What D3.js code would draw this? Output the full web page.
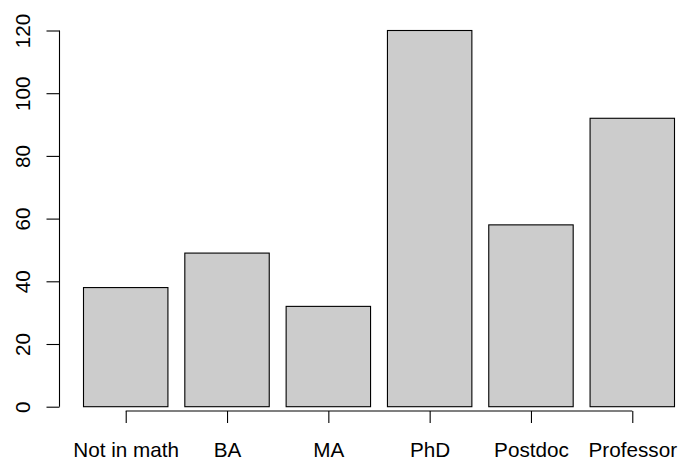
<!DOCTYPE html>
<html><head><meta charset="utf-8">
<script src="https://cdn.jsdelivr.net/npm/d3@7"></script>
<style>
html,body{margin:0;padding:0;background:#fff;}
text{font-family:"Liberation Sans",Arial,Helvetica,sans-serif;}
</style></head>
<body><svg id="c" width="680" height="460"></svg>
<script>
const categories = ["Not in math","BA","MA","PhD","Postdoc","Professor"];
const counts = [38,49,32,120,58,92];
const yTicks = [0,20,40,60,80,100,120];

const svg = d3.select("#c");
const x = d3.scaleBand().domain(categories).range([83,674]).paddingInner(0.2/1.2).paddingOuter(0);
const y = d3.scaleLinear().domain([0,120]).range([406.7,30.5]);
const FS = 20.7;

svg.append("g").selectAll("rect").data(categories).join("rect")
  .attr("x", d=>x(d)+0.5)
  .attr("y", (d,i)=>y(counts[i]))
  .attr("width", x.bandwidth())
  .attr("height", (d,i)=>y(0)-y(counts[i]))
  .attr("fill","#cccccc").attr("stroke","#000").attr("stroke-width",1.1);

// Y axis
const yAxis = d3.axisLeft(y).tickValues(yTicks).tickSize(13).tickPadding(17);
const gy = svg.append("g").attr("transform","translate(59.5,0)").call(yAxis);
gy.select(".domain").attr("d",`M0,${y(0)}V${y(120)}`).attr("stroke","#000").attr("stroke-width",1.1);
gy.selectAll(".tick line").attr("stroke","#000").attr("stroke-width",1.1);
gy.selectAll(".tick text").attr("font-size",FS).attr("fill","#000")
  .attr("font-family","Liberation Sans, Arial, sans-serif")
  .attr("text-anchor","middle").attr("dy",0).attr("x",0)
  .attr("transform","translate(-30,0) rotate(-90)");

// X axis
const xAxis = d3.axisBottom(d3.scalePoint().domain(categories).range([x(categories[0])+x.bandwidth()/2, x(categories[5])+x.bandwidth()/2]))
  .tickSize(12).tickPadding(20);
const gx = svg.append("g").attr("transform","translate(0.5,411)").call(xAxis);
gx.select(".domain").attr("stroke","#000").attr("stroke-width",1.1)
  .attr("d",`M${x(categories[0])+x.bandwidth()/2},0H${x(categories[5])+x.bandwidth()/2}`);
gx.selectAll(".tick line").attr("stroke","#000").attr("stroke-width",1.1);
gx.selectAll(".tick text").attr("font-size",FS).attr("fill","#000")
  .attr("font-family","Liberation Sans, Arial, sans-serif")
  .attr("y",45.5).attr("dy",0);
</script></body></html>
